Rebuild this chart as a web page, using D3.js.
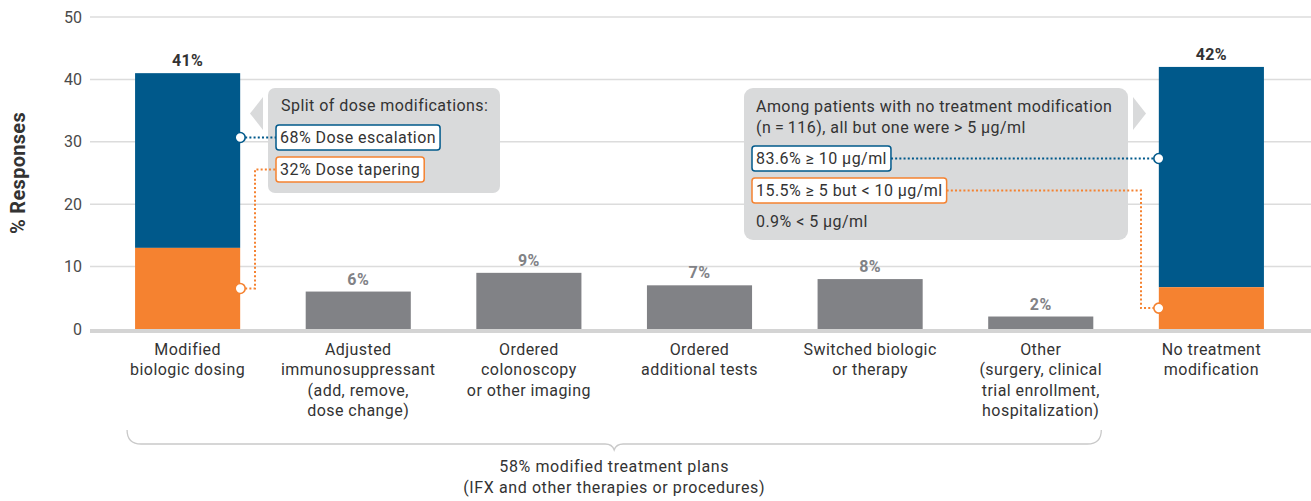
<!DOCTYPE html>
<html>
<head>
<meta charset="utf-8">
<script src="https://cdn.jsdelivr.net/npm/d3@7"></script>
<style>
  body { margin: 0; background: #fff; }
  text { font-family: Roboto, "Noto Sans", sans-serif; }
</style>
</head>
<body>
<svg id="chart" width="1311" height="501"></svg>
<script>
// data
var categories = ["dosing", "immuno", "colonoscopy", "tests", "switched", "other", "none"];
var catLabels = [
  ["Modified", "biologic dosing"],
  ["Adjusted", "immunosuppressant", "(add, remove,", "dose change)"],
  ["Ordered", "colonoscopy", "or other imaging"],
  ["Ordered", "additional tests"],
  ["Switched biologic", "or therapy"],
  ["Other", "(surgery, clinical", "trial enrollment,", "hospitalization)"],
  ["No treatment", "modification"]
];
var totals = [41, 6, 9, 7, 8, 2, 42];
var lowerPart = [13, 0, 0, 0, 0, 0, 6.7];   // orange segment of the split bars
var splitBars = [true, false, false, false, false, false, true];
var yTicks = [0, 10, 20, 30, 40, 50];

var leftTitle = ["Split of dose modifications:"];
var leftItems = ["68% Dose escalation", "32% Dose tapering"];
var rightTitle = ["Among patients with no treatment modification", "(n\u2009=\u2009116), all but one were > 5 \u00b5g/ml"];
var rightItems = ["83.6% \u2265 10 \u00b5g/ml", "15.5% \u2265 5 but < 10 \u00b5g/ml"];
var rightFoot = "0.9% < 5 \u00b5g/ml";
var braceText = ["58% modified treatment plans", "(IFX and other therapies or procedures)"];

var blue = "#00598b", orange = "#f58230", gray = "#818286", boxFill = "#d9dadb", ink = "#333";
var fs = 16, ls = "0.45px";

var svg = d3.select("#chart");
var width = 1311;

var y = d3.scaleLinear().domain([0, 50]).range([329, 17]);
var x = d3.scaleBand().domain(categories).range([89, 1310]).paddingInner(0.384).paddingOuter(0.27);
var bw = x.bandwidth();

// gridlines
svg.append("g").selectAll("line")
  .data(yTicks.filter(function(d) { return d > 0; }))
  .enter().append("line")
  .attr("x1", 90).attr("x2", width)
  .attr("y1", function(d) { return y(d); })
  .attr("y2", function(d) { return y(d); })
  .attr("stroke", "#dcdcdc").attr("stroke-width", 1.5);

svg.append("rect")
  .attr("x", 90).attr("y", y(0)).attr("width", width - 90).attr("height", 4)
  .attr("fill", "#d4d4d4");

// y axis
var yAxis = svg.append("g")
  .attr("transform", "translate(90,0)")
  .call(d3.axisLeft(y).tickValues(yTicks).tickSize(0).tickPadding(8));
yAxis.select(".domain").remove();
yAxis.selectAll("text")
  .attr("font-size", 16).attr("fill", "#4a4a4a")
  .style("font-family", "Roboto, sans-serif");

svg.append("text")
  .attr("transform", "translate(25," + 173 + ") rotate(-90)")
  .attr("text-anchor", "middle")
  .attr("font-size", 20).attr("font-weight", "bold").attr("fill", ink)
  .style("letter-spacing", "0.3px")
  .text("% Responses");

// bars
var idx = d3.range(categories.length);
var bars = svg.append("g");
bars.selectAll("rect.top")
  .data(idx).enter().append("rect")
  .attr("x", function(i) { return x(categories[i]); })
  .attr("y", function(i) { return y(totals[i]); })
  .attr("width", bw)
  .attr("height", function(i) { return y(lowerPart[i]) - y(totals[i]); })
  .attr("fill", function(i) { return splitBars[i] ? blue : gray; });
bars.selectAll("rect.low")
  .data(idx.filter(function(i) { return splitBars[i]; })).enter().append("rect")
  .attr("x", function(i) { return x(categories[i]); })
  .attr("y", function(i) { return y(lowerPart[i]); })
  .attr("width", bw)
  .attr("height", function(i) { return y(0) - y(lowerPart[i]); })
  .attr("fill", orange);

// value labels
svg.append("g").selectAll("text")
  .data(idx).enter().append("text")
  .attr("x", function(i) { return x(categories[i]) + bw / 2; })
  .attr("y", function(i) { return y(totals[i]) - 7; })
  .attr("text-anchor", "middle")
  .attr("font-size", 16).attr("font-weight", "bold")
  .style("letter-spacing", "0.4px")
  .attr("fill", function(i) { return splitBars[i] ? ink : gray; })
  .text(function(i) { return totals[i] + "%"; });

// category labels
var cl = svg.append("g").selectAll("text")
  .data(idx).enter().append("text")
  .attr("text-anchor", "middle")
  .attr("font-size", fs).style("letter-spacing", ls).attr("fill", ink);
cl.selectAll("tspan")
  .data(function(i) { return catLabels[i].map(function(s) { return {s: s, i: i}; }); })
  .enter().append("tspan")
  .attr("x", function(d) { return x(categories[d.i]) + bw / 2; })
  .attr("y", function(d, j) { return 355 + j * 20.4; })
  .text(function(d) { return d.s; });

// helpers
function note(g, tx, ty, str) {
  return g.append("text").attr("x", tx).attr("y", ty)
    .attr("font-size", fs).style("letter-spacing", ls).attr("fill", ink).text(str);
}
function itemBox(g, tx, ty, str, color) {
  var t = note(g, tx + 4, ty + 18, str);
  var w = t.node().getComputedTextLength() + 8;
  g.insert("rect", "text:last-child")
    .attr("x", tx).attr("y", ty).attr("width", w).attr("height", 25)
    .attr("rx", 3).attr("fill", "#fff").attr("stroke", color).attr("stroke-width", 1.5);
  t.raise();
  return {x: tx, y: ty, w: w, mid: ty + 12.5};
}
function dot(g, cx, cy, color) {
  g.append("circle").attr("cx", cx).attr("cy", cy).attr("r", 5)
    .attr("fill", "#fff").attr("stroke", color).attr("stroke-width", 1.6);
}
function dotted(g, pts, color) {
  g.append("path").attr("d", d3.line()(pts))
    .attr("fill", "none").attr("stroke", color).attr("stroke-width", 2)
    .attr("stroke-dasharray", "2,2.2");
}

// left annotation
var la = svg.append("g");
var b0 = x(categories[0]) + bw;
la.append("rect").attr("x", 268).attr("y", 88).attr("width", 232).attr("height", 105)
  .attr("rx", 7).attr("fill", boxFill);
la.append("path").attr("d", "M263,97 L250,113.5 L263,130 Z").attr("fill", boxFill);
note(la, 281, 111, leftTitle[0]);
var lb1 = itemBox(la, 276, 125, leftItems[0], blue);
var lb2 = itemBox(la, 276, 157, leftItems[1], orange);
dotted(la, [[b0 + 5, lb1.mid], [lb1.x, lb1.mid]], blue);
dotted(la, [[b0 + 5, y(lowerPart[0] / 2)], [255, y(lowerPart[0] / 2)], [255, lb2.mid], [lb2.x, lb2.mid]], orange);
dot(la, b0, lb1.mid, blue);
dot(la, b0, y(lowerPart[0] / 2), orange);

// right annotation
var ra = svg.append("g");
var b6 = x(categories[6]);
ra.append("rect").attr("x", 744).attr("y", 88).attr("width", 384).attr("height", 152)
  .attr("rx", 9).attr("fill", boxFill);
ra.append("path").attr("d", "M1133,97 L1146,113.5 L1133,130 Z").attr("fill", boxFill);
rightTitle.forEach(function(s, j) {
  note(ra, 756, 112 + j * 21, s);
});
var rb1 = itemBox(ra, 752, 146, rightItems[0], blue);
var rb2 = itemBox(ra, 752, 178, rightItems[1], orange);
note(ra, 756, 227, rightFoot);
dotted(ra, [[rb1.x + rb1.w, rb1.mid], [b6 - 5, rb1.mid]], blue);
dotted(ra, [[rb2.x + rb2.w, rb2.mid], [1141, rb2.mid], [1141, y(lowerPart[6] / 2)], [b6 - 5, y(lowerPart[6] / 2)]], orange);
dot(ra, b6, rb1.mid, blue);
dot(ra, b6, y(lowerPart[6] / 2), orange);

// brace under the modified-plan categories
var bx0 = x(categories[0]) - 8, bx1 = x(categories[5]) + bw + 8, bm = (bx0 + bx1) / 2;
svg.append("path")
  .attr("d", "M" + bx0 + ",430 Q" + bx0 + ",444 " + (bx0 + 14) + ",444 L" + (bm - 9) + ",444 Q" + (bm - 2) + ",444 " + bm + ",450 Q" + (bm + 2) + ",444 " + (bm + 9) + ",444 L" + (bx1 - 14) + ",444 Q" + bx1 + ",444 " + bx1 + ",430")
  .attr("fill", "none").attr("stroke", "#c9c9c9").attr("stroke-width", 1.3);
braceText.forEach(function(s, j) {
  svg.append("text").attr("x", bm).attr("y", 472 + j * 21).attr("text-anchor", "middle")
    .attr("font-size", fs).style("letter-spacing", "0.6px").attr("fill", ink).text(s);
});
</script>
</body>
</html>
